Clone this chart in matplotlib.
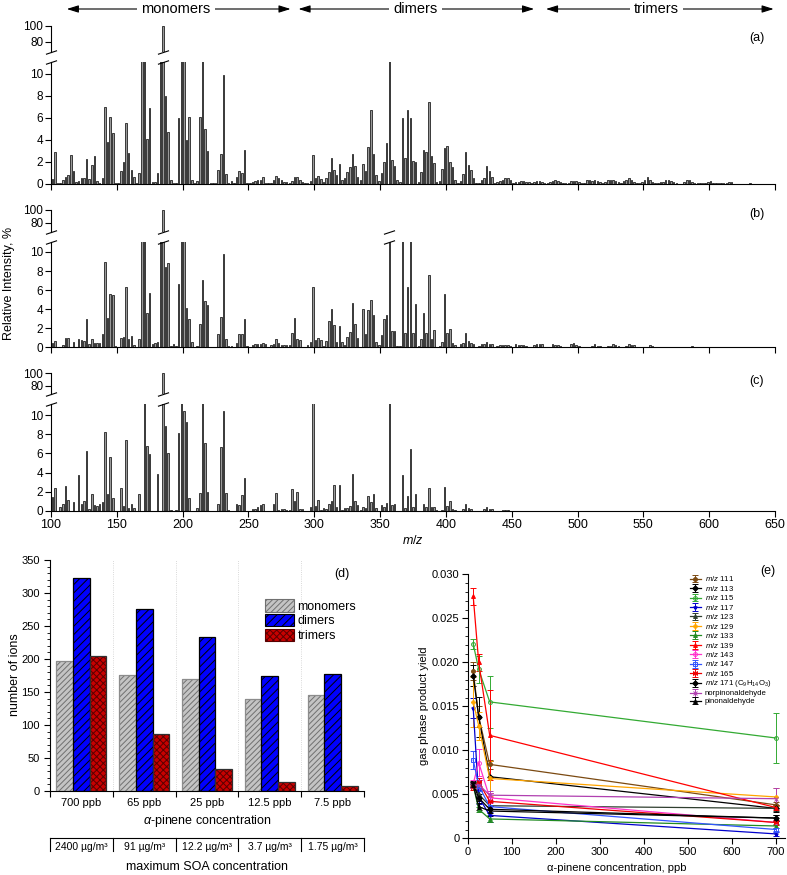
import numpy as np
import matplotlib.pyplot as plt
from matplotlib.patches import Patch
from matplotlib.transforms import blended_transform_factory

plt.rcParams['font.family'] = ['Liberation Sans', 'DejaVu Sans']
plt.rcParams['mathtext.fontset'] = 'custom'
plt.rcParams['mathtext.rm'] = 'Liberation Sans'
plt.rcParams['mathtext.it'] = 'Liberation Sans:italic'
plt.rcParams['hatch.linewidth'] = 0.7
plt.rcParams['axes.linewidth'] = 0.8

# ---- mass spectra (a) 700 ppb, (b) 65 ppb, (c) 12.5 ppb ; odd m/z 101..649
mz = np.arange(101, 650, 2)

int_a = [
    0.45, 2.9, 0.1, 0.1, 0.4, 0.6, 0.85, 2.6, 1.15, 0.15,      # 101-119
    0.3, 0.5, 0.55, 2.25, 0.45, 1.7, 2.5, 0.3, 0.1, 0.55,      # 121-139
    6.95, 3.8, 6.05, 4.65, 0.1, 0.1, 1.15, 2.0, 5.5, 2.85,     # 141-159
    1.25, 0.6, 0.1, 1.0, 20, 20, 4.05, 6.9, 0.2, 0.2,          # 161-179
    1.0, 20, 100, 8.0, 4.7, 0.4, 0.1, 0.1, 6.0, 20,            # 181-199
    20, 4.0, 6.1, 0.35, 0.1, 0.25, 6.1, 20, 5.0, 3.0,          # 201-219
    0.1, 0.1, 0.1, 1.25, 2.7, 9.85, 0.95, 0.1, 0.25, 0.1,      # 221-239
    0.6, 1.2, 1.0, 3.1, 0.1, 0.1, 0.15, 0.3, 0.4, 0.35,        # 241-259
    0.6, 0.1, 0.1, 0.1, 0.35, 0.75, 0.55, 0.35, 0.2, 0.15,     # 261-279
    0.1, 0.3, 0.6, 0.65, 0.4, 0.15, 0.1, 0.05, 0.3, 2.6,       # 281-299
    0.5, 0.75, 0.45, 0.15, 0.5, 1.05, 2.4, 1.3, 0.8, 1.85,     # 301-319
    0.35, 0.55, 1.05, 1.5, 2.7, 1.6, 0.6, 0.4, 1.8, 1.15,      # 321-339
    3.35, 6.7, 2.7, 0.85, 0.25, 1.0, 2.0, 3.75, 20, 2.15,      # 341-359
    1.65, 0.35, 0.2, 6.0, 2.4, 6.75, 6.0, 2.1, 2.0, 0.15,      # 361-379
    1.1, 3.1, 2.9, 7.4, 2.55, 1.9, 0.2, 0.25, 1.35, 3.25,      # 381-399
    3.45, 2.0, 1.5, 0.35, 0.1, 0.25, 0.9, 2.9, 1.7, 1.25,      # 401-419
    0.55, 0.05, 0.1, 0.35, 0.55, 1.65, 1.15, 0.65, 0.1, 0.2,   # 421-439
    0.25, 0.4, 0.5, 0.5, 0.4, 0.1, 0.2, 0.2, 0.25, 0.25,       # 441-459
    0.2, 0.15, 0.1, 0.15, 0.3, 0.3, 0.2, 0.1, 0.1, 0.2,        # 461-479
    0.3, 0.35, 0.25, 0.2, 0.1, 0.1, 0.05, 0.3, 0.3, 0.3,       # 481-499
    0.2, 0.05, 0.1, 0.35, 0.35, 0.3, 0.35, 0.3, 0.15, 0.1,     # 501-519
    0.2, 0.35, 0.4, 0.35, 0.3, 0.2, 0.1, 0.25, 0.35, 0.5,      # 521-539
    0.35, 0.2, 0.1, 0.05, 0.2, 0.35, 0.6, 0.35, 0.2, 0.05,     # 541-559
    0.05, 0.15, 0.2, 0.4, 0.4, 0.3, 0.15, 0.05, 0.02, 0.02,    # 561-579
    0.2, 0.35, 0.35, 0.2, 0.05, 0.05, 0.05, 0.05, 0.05, 0.2,   # 581-599
    0.25, 0.1, 0.05, 0.05, 0.05, 0.05, 0.05, 0.15, 0.15, 0.02, # 601-619
    0.02, 0.02, 0.02, 0.02, 0.02, 0.1, 0.02, 0.02, 0.02, 0.0,  # 621-639
    0, 0, 0, 0, 0,                                             # 641-649
]

int_b = [
    0.45, 0.65, 0, 0, 0.2, 1.0, 1.0, 0.05, 0.6, 0,             # 101-119
    0.9, 0.75, 0.65, 3.0, 0.35, 0.9, 0.5, 0.45, 0.45, 1.35,    # 121-139
    8.9, 3.05, 5.6, 5.5, 0.15, 0.05, 1.0, 1.1, 6.35, 0.85,     # 141-159
    1.2, 0.25, 0, 0.85, 20, 20, 3.6, 5.7, 0.3, 0.45,           # 161-179
    0.55, 20, 100, 8.45, 8.8, 0.15, 0.3, 0.15, 6.65, 20,       # 181-199
    20, 4.15, 3.0, 0.55, 0.05, 0.15, 2.45, 7.1, 4.85, 4.45,    # 201-219
    0.05, 0.05, 0.05, 1.4, 3.2, 9.8, 0.9, 0.1, 0.1, 0.05,      # 221-239
    0.45, 1.35, 1.4, 2.95, 0.1, 0.05, 0.25, 0.3, 0.35, 0.35,   # 241-259
    0.45, 0.3, 0.05, 0.2, 0.35, 0.9, 0.45, 0.2, 0.2, 0.2,      # 261-279
    0.25, 1.5, 3.1, 0.9, 0.75, 0.05, 0.05, 0.2, 0.55, 6.35,    # 281-299
    0.8, 1.0, 0.75, 0.1, 0.7, 2.8, 4.05, 2.3, 0.55, 2.2,       # 301-319
    0.55, 0.25, 1.05, 1.6, 4.65, 2.4, 0.95, 0.05, 4.0, 1.35,   # 321-339
    3.95, 4.95, 3.4, 0.6, 0.25, 1.3, 2.95, 3.35, 40, 1.75,     # 341-359
    1.75, 0.15, 0.15, 20, 1.55, 6.3, 20, 1.45, 4.55, 0.15,     # 361-379
    0.85, 3.55, 1.55, 7.55, 0.85, 1.8, 0.05, 0.1, 0.6, 5.55,   # 381-399
    1.55, 1.9, 0.5, 0.2, 0.05, 0.3, 0.5, 1.55, 0.65, 0.5,      # 401-419
    0.35, 0.05, 0.15, 0.35, 0.35, 0.6, 0.35, 0.35, 0.05, 0.15, # 421-439
    0.2, 0.25, 0.25, 0.2, 0.15, 0.05, 0.35, 0.2, 0.25, 0.2,    # 441-459
    0.1, 0.05, 0.05, 0.2, 0.3, 0.3, 0.3, 0.05, 0.05, 0.05,     # 461-479
    0.3, 0.2, 0.25, 0.1, 0.05, 0.05, 0.05, 0.3, 0.45, 0.2,     # 481-499
    0.15, 0.05, 0.05, 0.05, 0.05, 0.1, 0.3, 0.15, 0.1, 0.05,   # 501-519
    0.05, 0.1, 0.1, 0.3, 0.2, 0.15, 0.05, 0.05, 0.15, 0.3,     # 521-539
    0.25, 0.2, 0.05, 0.02, 0.02, 0.02, 0.02, 0.2, 0.1, 0.02,   # 541-559
    0.02, 0.02, 0.02, 0.02, 0.02, 0.05, 0.02, 0.02, 0.02, 0.02,# 561-579
    0.02, 0.02, 0.02, 0.1, 0.02, 0.02, 0, 0, 0, 0,             # 581-599
    0, 0, 0, 0, 0, 0, 0, 0, 0, 0,                              # 601-619
    0, 0, 0, 0, 0, 0, 0, 0, 0, 0,                              # 621-639
    0, 0, 0, 0, 0,                                             # 641-649
]

int_c = [
    1.45, 2.4, 0, 0.4, 0.7, 2.6, 1.1, 0, 0.9, 0,               # 101-119
    3.75, 0.75, 1.0, 6.3, 0.2, 1.7, 0.55, 0.5, 0.65, 0.95,     # 121-139
    8.2, 1.8, 5.6, 1.35, 0, 0, 2.4, 0.5, 7.4, 0.25,            # 141-159
    0.75, 0.3, 0, 1.75, 0, 12, 6.75, 5.95, 0, 0,               # 161-179
    3.85, 0, 100, 8.85, 6.0, 0.1, 0, 0.1, 8.1, 12,             # 181-199
    10.5, 9.3, 1.35, 0, 0, 0.25, 1.9, 12, 7.1, 1.95,           # 201-219
    0, 0, 0, 0.7, 6.7, 10.45, 1.9, 0.1, 0, 0,                  # 221-239
    0.75, 0.6, 1.65, 3.4, 0, 0, 0.15, 0.15, 0.4, 0.55,         # 241-259
    0.7, 0, 0, 0, 0.7, 1.9, 0.1, 0.2, 0.15, 0.1,               # 261-279
    0.05, 2.25, 1.0, 2.0, 0.2, 0.2, 0, 0, 0.35, 12,            # 281-299
    0.45, 1.1, 0.05, 0.25, 0.15, 0.65, 1.0, 2.7, 0.35, 2.65,   # 301-319
    0.05, 0.25, 0.3, 0.5, 3.8, 1.0, 0.6, 0.05, 0.35, 0.25,     # 321-339
    1.55, 0.95, 1.75, 0.3, 0, 0.55, 0.35, 0.8, 12, 0.55,       # 341-359
    0.65, 0, 0, 3.7, 0.3, 1.55, 6.45, 0.4, 1.8, 0,             # 361-379
    0, 0.75, 0.4, 2.4, 0.4, 0.4, 0.05, 0, 0.1, 2.5,            # 381-399
    0.45, 1.05, 0.15, 0.05, 0, 0, 0.15, 0.7, 0.25, 0.15,       # 401-419
    0, 0, 0, 0, 0.15, 0.4, 0.2, 0.15, 0.02, 0,                 # 421-439
    0, 0.05, 0.05, 0.05, 0, 0, 0, 0, 0, 0,                     # 441-459
] + [0] * 95                                                   # 461-649

# ---- (d) number of ions
conc_labels = ['700 ppb', '65 ppb', '25 ppb', '12.5 ppb', '7.5 ppb']
soa_labels = ['2400 µg/m³', '91 µg/m³', '12.2 µg/m³', '3.7 µg/m³', '1.75 µg/m³']
n_monomers = [197, 176, 169, 140, 145]
n_dimers = [323, 276, 234, 175, 177]
n_trimers = [205, 86, 34, 14, 7]

# ---- (e) gas phase product yields
conc = [12.5, 25, 50, 700]
y111 = [0.0190, 0.0138, 0.0084, 0.0038]; e111 = [0.0010, 0.0012, 0.0005, 0.0003]
y113 = [0.0185, 0.0138, 0.0070, 0.0034]; e113 = [0.0012, 0.0023, 0.0018, 0.0004]
y115 = [0.0221, 0.0192, 0.0155, 0.0114]; e115 = [0.0006, 0.0015, 0.0030, 0.0028]
y117 = [0.0148, 0.0047, 0.0026, 0.0005]; e117 = [0.0011, 0.0008, 0.0007, 0.0002]
y123 = [0.0061, 0.0050, 0.0037, 0.0034]; e123 = [0.0003, 0.0004, 0.0004, 0.0003]
y129 = [0.0155, 0.0128, 0.0068, 0.0047]; e129 = [0.0028, 0.0016, 0.0020, 0.0010]
y133 = [0.0060, 0.0033, 0.0022, 0.0014]; e133 = [0.0003, 0.0003, 0.0004, 0.0002]
y139 = [0.0275, 0.0200, 0.0117, 0.0035]; e139 = [0.0010, 0.0010, 0.0051, 0.0003]
y143 = [0.0062, 0.0086, 0.0046, 0.0018]; e143 = [0.0004, 0.0015, 0.0006, 0.0003]
y147 = [0.0089, 0.0060, 0.0036, 0.0010]; e147 = [0.0010, 0.0006, 0.0006, 0.0002]
y165 = [0.0058, 0.0064, 0.0042, 0.0018]; e165 = [0.0003, 0.0004, 0.0005, 0.0003]
y171 = [0.0062, 0.0046, 0.0033, 0.0023]; e171 = [0.0003, 0.0004, 0.0004, 0.0003]
ynor = [0.0060, 0.0061, 0.0049, 0.0045]; enor = [0.0003, 0.0005, 0.0005, 0.0012]
ypin = [0.0061, 0.0036, 0.0031, 0.0023]; epin = [0.0003, 0.0004, 0.0006, 0.0003]

W, H = 787, 875
fig = plt.figure(figsize=(W / 100, H / 100), dpi=100)


def box(x0, y0, x1, y1):
    # pixel rectangle (y down) -> figure fraction
    return [x0 / W, 1 - y1 / H, (x1 - x0) / W, (y1 - y0) / H]


def fx(x):
    return x / W


def fy(y):
    return 1 - y / H


slash = [(-1, -0.33), (1, 0.33)]


def spectrum(vals, up, low, up_bot, low_top, broken, tag, ty, last=False):
    au = fig.add_axes(box(51, up[0], 775, up[1]))
    al = fig.add_axes(box(51, low[0], 775, low[1]))
    for ax in (au, al):
        ax.bar(mz, vals, width=1.15, color='0.6', edgecolor='k', linewidth=0.5)
        ax.set_xlim(100, 650)
        ax.spines[['top', 'right']].set_visible(False)
        ax.tick_params(direction='out', length=4, width=0.8, labelsize=8.5, pad=1.5)
    au.set_ylim(up_bot, 100)
    au.set_yticks([80, 100])
    au.spines['bottom'].set_visible(False)
    au.set_xticks([])
    al.set_ylim(0, low_top)
    al.set_yticks(range(0, 11, 2))
    al.set_xticks(range(100, 651, 50))
    if not last:
        al.set_xticklabels([])
    else:
        al.tick_params(axis='x', labelsize=9, pad=2)
    for m in [100] + broken:
        au.plot(m, up_bot, marker=slash, ms=8, mec='k', mfc='k', mew=0.8, clip_on=False)
        al.plot(m, low_top, marker=slash, ms=8, mec='k', mfc='k', mew=0.8, clip_on=False)
    fig.text(fx(757), fy(ty), tag, ha='center', va='center', fontsize=9)
    return al


ax_a = spectrum(int_a, (26, 52), (62, 184), 67, 11.06, [185], '(a)', 38)
spectrum(int_b, (210, 232), (241.7, 347.3), 65.4, 11.08, [185, 357], '(b)', 214)
spectrum(int_c, (373.3, 394.3), (404.3, 510.7), 66.8, 11.15, [185], '(c)', 381, last=True)

fig.text(fx(9), fy(283), 'Relative Intensity, %', rotation=90, ha='center', va='center', fontsize=9)
fig.text(fx(413), fy(541), r'$\it{m/z}$', ha='center', va='center', fontsize=9)

# oligomer ranges above (a)
for lo, hi, mid, name in [(112, 282, 195, 'monomers'), (288, 467, 377, 'dimers'),
                          (476, 649, 560, 'trimers')]:
    ax_a.annotate('', xy=(lo, fy(9)), xytext=(hi, fy(9)), xycoords=('data', 'figure fraction'),
                  textcoords=('data', 'figure fraction'), annotation_clip=False,
                  arrowprops=dict(arrowstyle='<|-|>,head_length=0.7,head_width=0.22',
                                  color='k', lw=0.8, shrinkA=0, shrinkB=0))
    ax_a.text(mid, fy(9), name, transform=blended_transform_factory(ax_a.transData, fig.transFigure),
              ha='center', va='center', fontsize=10.5,
              bbox=dict(facecolor='white', edgecolor='none', pad=3))

# ---- panel (d)
ad = fig.add_axes(box(50, 560, 364, 791))
xg = np.arange(len(conc_labels))
bw = 0.265
styles = [
    (-bw, n_monomers, '#c4c4c4', '//////', '#707070', '#8c8c8c', 'monomers'),
    (0, n_dimers, '#0000ff', '////', '#000000', '#000000', 'dimers'),
    (bw, n_trimers, '#c80000', 'xxxxx', '#5a0000', '#303030', 'trimers'),
]
handles = []
for off, vals, fc, hatch, hc, oc, lab in styles:
    ad.bar(xg + off, vals, bw, color=fc, hatch=hatch, edgecolor=hc, linewidth=0)
    ad.bar(xg + off, vals, bw, fill=False, edgecolor=oc, linewidth=0.9)
    handles.append(Patch(facecolor=fc, hatch=hatch, edgecolor=hc, linewidth=0.8, label=lab))
for b in xg[:-1] + 0.5:
    ad.axvline(b, color='0.8', lw=0.6, ls=':', zorder=0)
ad.set_xlim(-0.5, 4.5)
ad.set_ylim(0, 350)
ad.set_yticks(range(0, 351, 50))
ad.set_yticks(range(0, 351, 10), minor=True)
ad.set_xticks(np.arange(-0.5, 5, 1))
ad.set_xticklabels([])
ad.set_xticks(xg, labels=conc_labels, minor=True)
ad.spines[['top', 'right']].set_visible(False)
ad.tick_params(which='major', direction='out', length=4, width=0.8, labelsize=8)
ad.tick_params(which='minor', axis='y', direction='out', length=2, width=0.6)
ad.tick_params(which='minor', axis='x', length=0, labelsize=8, pad=5)
ad.legend(handles=handles, loc='upper left', bbox_to_anchor=(0.685, 0.83), frameon=False,
          fontsize=9, handlelength=2.3, handleheight=1.15, labelspacing=0.1,
          handletextpad=0.3, borderaxespad=0, borderpad=0)
fig.text(fx(342), fy(574), '(d)', ha='center', va='center', fontsize=9)
fig.text(fx(15), fy(675), 'number of ions', rotation=90, ha='center', va='center', fontsize=9)
fig.text(fx(207), fy(821), r'$\it{\alpha}$-pinene concentration', ha='center', va='center', fontsize=9)
fig.text(fx(207), fy(867), 'maximum SOA concentration', ha='center', va='center', fontsize=9)
tr = blended_transform_factory(ad.transData, fig.transFigure)
ad.plot([-0.5, 4.5], [fy(838), fy(838)], color='k', lw=0.8, transform=tr, clip_on=False)
for b in np.arange(-0.5, 5, 1):
    ad.plot([b, b], [fy(838), fy(851)], color='k', lw=0.8, transform=tr, clip_on=False)
for i, lab in enumerate(soa_labels):
    ad.text(i, fy(847), lab, transform=tr, ha='center', va='center', fontsize=7.5)

# ---- panel (e)
ae = fig.add_axes(box(467.7, 574.3, 785, 838.3))
bowtie = [(-1, -1), (-1, 1), (1, -1), (1, 1), (-1, -1)]
series = [
    (y111, e111, '#7b4a12', 'o', '#7b4a12', r'$\it{m/z}$ 111'),
    (y113, e113, '#000000', 'D', '#000000', r'$\it{m/z}$ 113'),
    (y115, e115, '#33aa33', 'o', 'none', r'$\it{m/z}$ 115'),
    (y117, e117, '#0000cc', '*', '#0000cc', r'$\it{m/z}$ 117'),
    (y123, e123, '#2f3f2f', '^', '#2f3f2f', r'$\it{m/z}$ 123'),
    (y129, e129, '#ffa500', 'P', '#ffa500', r'$\it{m/z}$ 129'),
    (y133, e133, '#228b22', '^', '#228b22', r'$\it{m/z}$ 133'),
    (y139, e139, '#ff0000', '^', '#ff0000', r'$\it{m/z}$ 139'),
    (y143, e143, '#ff33cc', 'o', 'none', r'$\it{m/z}$ 143'),
    (y147, e147, '#3355ff', 's', 'none', r'$\it{m/z}$ 147'),
    (y165, e165, '#ee0000', bowtie, '#ee0000', r'$\it{m/z}$ 165'),
    (y171, e171, '#000000', 'D', '#000000', r'$\it{m/z}$ 171 (C$_9$H$_{14}$O$_3$)'),
    (ynor, enor, '#b040b0', 'x', '#b040b0', 'norpinonaldehyde'),
    (ypin, epin, '#000000', '^', '#000000', 'pinonaldehyde'),
]
for y, e, c, mk, mf, lab in series:
    ae.errorbar(conc, y, yerr=e, color=c, marker=mk, ms=2.8, mfc=mf, mec=c, mew=0.7,
                lw=0.9, elinewidth=0.7, capsize=2.5, capthick=0.7, label=lab)
ae.set_xlim(0, 721)
ae.set_ylim(0, 0.030)
ae.set_xticks(range(0, 701, 100))
ae.set_yticks(np.arange(0, 0.0301, 0.005))
ae.set_yticklabels(['0', '0.005', '0.010', '0.015', '0.020', '0.025', '0.030'])
ae.set_yticks(np.arange(0, 0.0301, 0.001), minor=True)
ae.spines[['top', 'right']].set_visible(False)
ae.tick_params(which='major', direction='out', length=4, width=0.8, labelsize=8, pad=2)
ae.tick_params(which='minor', direction='out', length=2, width=0.6)
ae.legend(loc='upper left', bbox_to_anchor=(0.70, 1.0), frameon=False, fontsize=5.6,
          handlelength=1.4, labelspacing=0.06, handletextpad=0.5, borderaxespad=0, borderpad=0)
fig.text(fx(768), fy(571), '(e)', ha='center', va='center', fontsize=9)
fig.text(fx(424), fy(706), 'gas phase product yield', rotation=90, ha='center', va='center', fontsize=8)
fig.text(fx(617), fy(868), 'α-pinene concentration, ppb', ha='center', va='center', fontsize=8)

fig.savefig('out.png', dpi=100)
